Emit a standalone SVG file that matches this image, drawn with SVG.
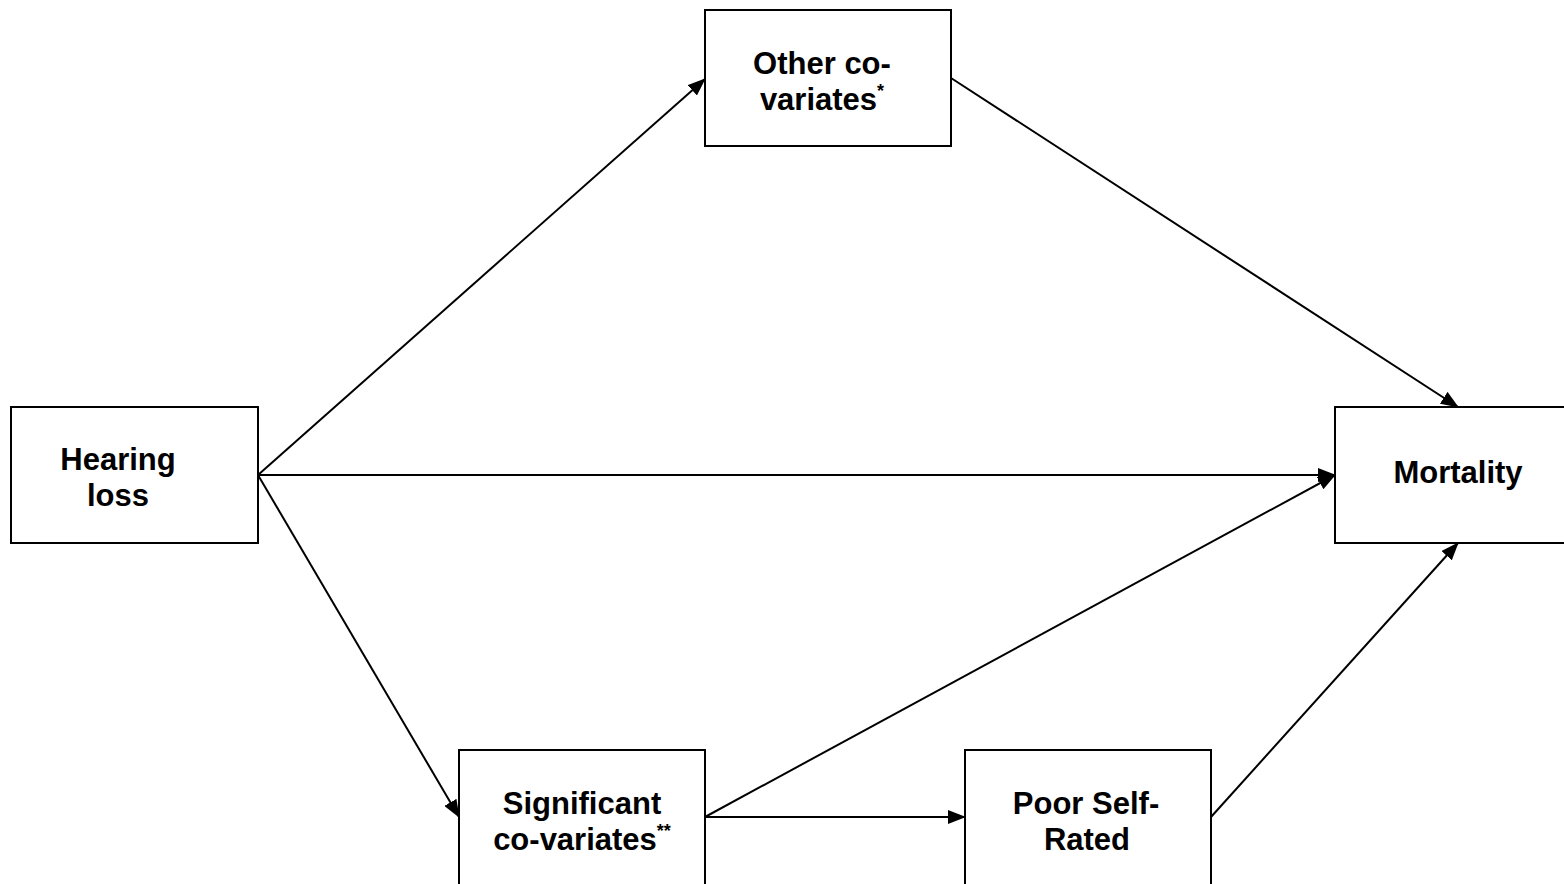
<svg xmlns="http://www.w3.org/2000/svg" width="1564" height="884" viewBox="0 0 1564 884">
<style>
.box{fill:#fff;stroke:#000;stroke-width:2}
.t{font-family:"Liberation Sans",Arial,sans-serif;font-weight:bold;font-size:31px;fill:#000;text-anchor:middle}
.sup{font-size:18px}
.c{stroke:#000;stroke-width:2;fill:none;marker-end:url(#ah)}
</style>
<defs>
<marker id="ah" markerWidth="9" markerHeight="7" refX="8.5" refY="3.5" orient="auto" markerUnits="strokeWidth">
<path d="M0,0 L9,3.5 L0,7 Z" fill="#000"/>
</marker>
</defs>
<rect width="1564" height="884" fill="#fff"/>
<g id="connectors">
<line class="c" x1="258" y1="475" x2="705" y2="79"/>
<line class="c" x1="258" y1="475" x2="1335" y2="475"/>
<line class="c" x1="258" y1="475" x2="459" y2="817"/>
<line class="c" x1="951" y1="78" x2="1458" y2="407"/>
<line class="c" x1="705" y1="817" x2="1335" y2="475"/>
<line class="c" x1="705" y1="817" x2="965" y2="817"/>
<line class="c" x1="1211" y1="817" x2="1458" y2="543"/>
</g>
<g id="other">
<rect class="box" x="705" y="10" width="246" height="136"/>
<text class="t" x="822" y="74">Other co-</text>
<text class="t" x="822" y="110">variates<tspan class="sup" dy="-13">*</tspan></text>
</g>
<g id="hearing">
<rect class="box" x="11" y="407" width="247" height="136"/>
<text class="t" x="118" y="470">Hearing</text>
<text class="t" x="118" y="506">loss</text>
</g>
<g id="mortality">
<rect class="box" x="1335" y="407" width="246" height="136"/>
<text class="t" x="1458" y="483">Mortality</text>
</g>
<g id="significant">
<rect class="box" x="459" y="750" width="246" height="150"/>
<text class="t" x="582" y="814">Significant</text>
<text class="t" x="582" y="850">co-variates<tspan class="sup" dy="-13">**</tspan></text>
</g>
<g id="poor">
<rect class="box" x="965" y="750" width="246" height="150"/>
<text class="t" x="1086" y="814">Poor Self-</text>
<text class="t" x="1087" y="850">Rated</text>
</g>
</svg>
